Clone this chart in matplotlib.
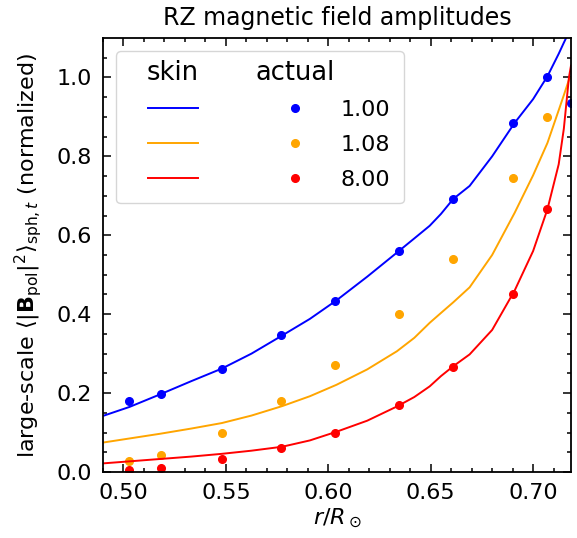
import numpy as np
import matplotlib
matplotlib.use("Agg")
import matplotlib.pyplot as plt
import matplotlib.text as mtext
from matplotlib.legend_handler import HandlerLine2D

# measured points ("actual")
r_pts = np.array([0.5025, 0.5185, 0.548, 0.577, 0.6035, 0.6345, 0.661, 0.690, 0.707, 0.7183])
act_100 = np.array([0.181, 0.198, 0.260, 0.346, 0.433, 0.560, 0.692, 0.885, 1.000, 0.935])
act_108 = np.array([0.028, 0.043, 0.100, 0.181, 0.270, 0.400, 0.540, 0.746, 0.900, np.nan])
act_800 = np.array([0.005, 0.010, 0.033, 0.061, 0.100, 0.170, 0.267, 0.450, 0.667, np.nan])

# skin-depth model curves
r_line = np.array([0.4905, 0.503, 0.518, 0.533, 0.548, 0.5625, 0.5775, 0.591, 0.604, 0.619,
                   0.6335, 0.642, 0.6495, 0.655, 0.661, 0.669, 0.680, 0.691, 0.700, 0.707,
                   0.7125, 0.715, 0.7175, 0.7185])
skin_100 = np.array([0.143, 0.165, 0.197, 0.230, 0.262, 0.300, 0.346, 0.388, 0.435, 0.495,
                     0.556, 0.592, 0.624, 0.654, 0.692, 0.725, 0.800, 0.885, 0.945, 1.003,
                     1.060, 1.088, 1.115, 1.125])
skin_108 = np.array([0.075, 0.085, 0.097, 0.110, 0.124, 0.143, 0.167, 0.192, 0.221, 0.260,
                     0.306, 0.340, 0.378, 0.403, 0.430, 0.468, 0.550, 0.657, 0.752, 0.834,
                     0.917, 0.955, 0.994, 1.000])
skin_800 = np.array([0.022, 0.027, 0.033, 0.039, 0.046, 0.054, 0.064, 0.080, 0.102, 0.130,
                     0.166, 0.190, 0.217, 0.243, 0.268, 0.298, 0.360, 0.460, 0.560, 0.666,
                     0.780, 0.870, 1.000, 1.030])

labels = ["1.00", "1.08", "8.00"]
colors = ["blue", "orange", "red"]


class Header(object):
    def __init__(self, s):
        self.s = s


class HeaderHandler(object):
    def legend_artist(self, legend, orig_handle, fontsize, handlebox):
        x = handlebox.xdescent + handlebox.width / 2.
        y = handlebox.ydescent + handlebox.height / 2.
        t = mtext.Text(x, y, orig_handle.s, fontsize=18.5, ha="center", va="center")
        handlebox.add_artist(t)
        return t


class ShortLine(HandlerLine2D):
    # line only in the middle of the (wide) handle box
    def get_xdata(self, legend, xdescent, ydescent, width, height, fontsize):
        xd = np.array([-xdescent + 0.21 * width, -xdescent + 0.79 * width])
        return xd, np.array([-xdescent + 0.5 * width])


plt.rcParams["font.size"] = 16
plt.rcParams["mathtext.fontset"] = "dejavusans"

fig = plt.figure(figsize=(5.77, 5.38), dpi=100)
ax = fig.add_axes([0.1785, 0.1227, 0.8111, 0.8067])

curves = [skin_100, skin_108, skin_800]
points = [act_100, act_108, act_800]
line_h = []
dot_h = []
for c, sk, ac in zip(colors, curves, points):
    l, = ax.plot(r_line, sk, "-", color=c, lw=1.4)
    d, = ax.plot(r_pts, ac, "o", color=c, ms=5.5)
    line_h.append(l)
    dot_h.append(d)

ax.set_xlim(0.4905, 0.7185)
ax.set_ylim(0, 1.1)
ax.set_xticks([0.50, 0.55, 0.60, 0.65, 0.70])
ax.set_xticks(np.arange(0.49, 0.72, 0.01), minor=True)
ax.set_yticks(np.arange(0, 1.01, 0.2))
ax.set_yticks(np.arange(0, 1.1, 0.05), minor=True)
ax.tick_params(which="both", direction="in", top=True, right=True, width=1.1)
ax.tick_params(which="major", length=6, pad=8)
ax.tick_params(which="minor", length=3)
for s in ax.spines.values():
    s.set_linewidth(1.3)

ax.set_xlabel(r"$r/R_\odot$", labelpad=3)
ax.set_ylabel(r"large-scale $\langle|\mathbf{B}_\mathrm{pol}|^2\rangle_{\mathrm{sph},t}$ (normalized)",
              labelpad=9)
ax.set_title("RZ magnetic field amplitudes", fontsize=17, pad=9)

handles = [Header("skin")] + line_h + [Header("actual")] + dot_h
leg_labels = ["", "", "", "", "", labels[0], labels[1], labels[2]]
hmap = {Header: HeaderHandler()}
for l in line_h:
    hmap[l] = ShortLine()
ax.legend(handles, leg_labels, ncol=2, loc="upper left", handler_map=hmap,
          handlelength=3.9, handletextpad=0.1, columnspacing=1.5,
          labelspacing=0.68, borderpad=0.6, borderaxespad=0.6)

fig.savefig("out.png", dpi=100)
